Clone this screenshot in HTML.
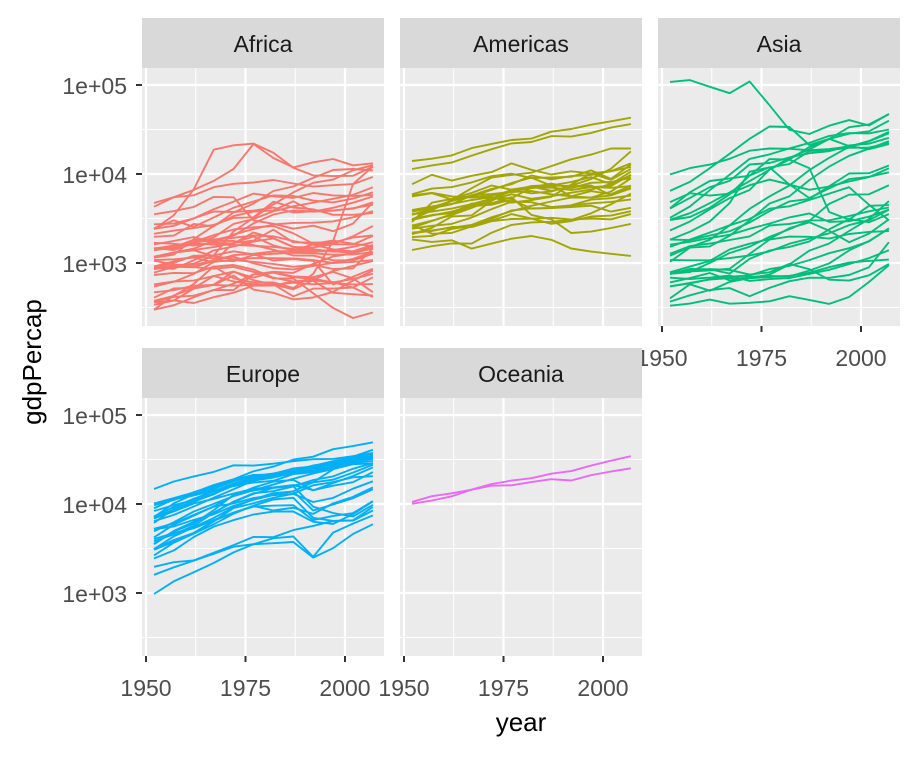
<!DOCTYPE html>
<html><head><meta charset="utf-8"><style>
body{margin:0;background:#fff;}
svg text{font-family:"Liberation Sans",Arial,sans-serif;}
</style></head><body>
<svg id="chart" width="918" height="756" xmlns="http://www.w3.org/2000/svg"></svg>
<script>
const years=[1952,1957,1962,1967,1972,1977,1982,1987,1992,1997,2002,2007];
const continents=["Africa","Americas","Asia","Europe","Oceania"];
const colors=["#F8766D","#A3A500","#00BF7D","#00B0F6","#E76BF3"];
const xTicks=[1950,1975,2000];
const yTicks=[1000,10000,100000];
const yTickLabels=["1e+03","1e+04","1e+05"];
const africa=[
[2388,3448,6757,18773,21011,21951,17364,11770,9640,9467,9535,12057],
[4293,5487,6632,8358,11401,21746,15113,11864,13522,14723,12522,13206],
[4725,5487,5769,7114,7765,8028,8568,7826,7225,7479,7710,9270],
[851,918,984,1215,2263,3215,4551,6206,7954,8648,11004,12570],
[1968,2034,2748,2575,3694,4655,6445,7244,9044,11089,11393,10957],
[2449,3014,2551,3247,4183,4910,5745,5681,5023,4797,5288,6223],
[1419,1459,1693,1815,2025,2785,3504,3885,3795,4173,4754,5581],
[1688,1643,1567,1711,2084,2407,2710,2819,2840,2931,3258,3821],
[1469,1396,1661,1932,2753,3121,3814,4333,4764,5268,5828,7093],
[376,427,582,916,673,606,605,522,755,1762,7703,12154],
[3521,3828,4269,5523,5473,3009,2757,2430,2628,2277,2773,4797],
[2126,2315,2465,2678,3213,3260,4880,4201,4016,3484,3484,3633],
[2424,2621,3174,3794,3746,3876,4192,3694,3805,3899,4073,4811],
[1148,1244,1856,2614,3364,3782,3896,4938,3769,3869,4128,4513],
[1077,1101,1151,1015,1698,1982,1577,1385,1620,1625,1615,2014],
[854,944,897,1057,1223,1268,1348,1361,1342,1360,1288,1463],
[911,1044,1190,1126,1178,993,876,847,926,1005,1112,1328],
[362,379,516,566,556,566,577,421,516,516,531,691],
[369,416,429,496,585,744,779,692,665,605,660,759],
[339,380,355,413,464,556,559,621,631,463,446,430],
[469,495,556,566,724,502,462,390,410,473,634,824],
[575,620,634,713,803,640,573,506,637,609,531,415],
[781,906,896,862,905,796,673,672,457,312,241,278],
[407,519,527,570,799,685,788,706,693,792,672,470],
[299,336,412,498,496,745,797,774,977,1187,1275,1569],
[880,1005,1207,1216,1354,1254,1068,1106,1057,574,699,863],
[1450,1568,1654,1612,1597,1562,1518,1441,1367,1393,1519,1712],
[1173,1313,1400,1508,1684,1783,2368,1708,1694,1694,1934,2042],
[1389,1500,1728,2052,2378,2518,2603,2157,1648,1786,1649,1545],
[1147,1312,1453,1777,1773,1589,1409,1213,1211,1071,1072,1271],
[1615,1771,1959,1687,1659,2203,1895,1507,1492,1632,1994,2602],
[734,775,768,908,950,844,683,618,644,816,928,1056],
[299,432,522,716,620,576,563,601,576,596,575,579],
[2719,2770,3173,4021,4893,6030,5614,5394,6110,5745,5680,5790],
[880,861,1072,1385,1533,1738,1890,1517,1429,1340,1353,1598],
[543,617,755,1029,1086,1030,976,907,951,857,870,1463],
[1062,959,950,1071,1049,1230,1268,1301,1285,1240,1250,1323],
[1178,1308,1389,1196,1104,1134,1131,1124,1077,1001,1028,1078],
[1444,1509,1822,1834,1919,2043,1996,1768,1604,1420,1351,1519]
];
const americas=[
[13990,14847,16173,19530,21806,24072,25009,29884,32004,35767,39097,42952],
[11367,12490,13462,16077,18971,22091,22899,26627,26343,28955,33329,36319],
[3082,3908,5108,6930,9123,9771,10331,12281,14642,16500,19329,19329],
[7690,9803,8423,9541,10506,13144,11152,9884,10733,10165,8605,11416],
[3023,4100,4997,5621,6620,7899,9119,7389,7370,8793,11461,18009],
[5911,6857,7133,8053,9443,10079,8998,9140,9308,10967,8798,12779],
[5717,6151,5603,5445,5703,6504,6920,7452,8137,9231,7727,10611],
[3940,4316,4627,5107,5494,4757,5096,5547,7596,10118,10779,13172],
[3478,4132,4582,5755,6809,7675,9611,8688,9472,9767,10742,11978],
[2109,2487,3337,3430,4986,6660,7031,7807,6950,7958,8131,9066],
[2480,2961,3537,4421,5364,5351,7009,7034,6618,7113,7356,9809],
[2627,2990,3461,4162,5119,5926,5262,5630,6160,6677,7723,9645],
[5587,6092,5180,5690,5305,6380,7317,7533,5593,5432,6340,8948],
[2899,4756,5246,6125,7434,6650,6068,6351,7405,7121,6994,7321],
[2144,2323,2492,2679,3265,3815,4398,4903,5445,5413,5755,7007],
[3759,4245,4957,5788,5938,6281,6435,5909,5623,6430,5909,7409],
[3522,3780,4086,4580,5280,6680,7213,6482,7104,7430,5773,6873],
[1398,1544,1662,1653,2189,2681,2862,2900,3045,3614,4563,6025],
[2677,2128,2181,2587,2980,3548,3157,2754,2962,3326,3413,3822],
[1953,2017,2418,2616,3130,3896,4109,4141,4258,4409,3784,4173],
[3048,3421,3776,4359,4520,5139,4098,4140,4444,5155,5352,5728],
[2428,2618,2750,3243,4032,4879,4820,4247,4439,4684,4859,5186],
[2195,2291,2538,2529,2947,3122,3146,3221,3082,3161,3099,3548],
[3112,3458,3634,4644,4688,5487,3471,3101,2171,2253,2475,2749],
[1840,1726,1797,1452,1654,1874,2011,1823,1457,1342,1270,1202]
];
const asia=[
[108382,113523,95458,80895,109348,59265,31354,28118,34932,40301,35111,47307],
[6460,8157,11626,16903,24837,34168,33694,21199,24841,20586,19014,21655],
[9867,11636,12753,14805,18269,19340,19211,18524,19036,20292,23404,29796],
[3217,4318,6577,9848,14779,16610,19384,22376,26825,28817,28605,31656],
[2316,2923,4012,5367,6611,11210,15170,18862,24769,33519,36023,47143],
[3054,3629,4693,6198,8316,11186,14561,20038,24758,28378,30209,39725],
[4087,5386,7106,8394,12787,13307,15367,17123,18051,20897,21906,25523],
[1207,1508,1823,2644,4063,5597,7427,11055,15216,20207,23235,28718],
[1031,1488,1537,2029,3030,4657,5623,8533,12104,15994,19234,23348],
[1828,2243,2925,4721,10618,11849,12955,18115,18617,19702,19775,22316],
[3035,3290,4187,5907,9614,11889,7608,6643,7235,8263,9241,11606],
[4130,6229,8342,8931,9577,14688,14517,11644,3745,3076,4391,4471],
[4835,6090,5716,6006,7486,8660,7640,5377,6890,8755,9313,10461],
[1831,1810,2037,2278,2849,3828,4920,5249,7278,10133,10207,12452],
[786,912,1057,1421,1648,1856,2463,2863,2298,1711,2141,3096],
[400,576,488,613,677,741,962,1379,1655,2289,3119,4959],
[547,590,658,701,725,855,928,1079,1289,1467,1747,2452],
[750,859,849,762,1111,1383,1517,1748,2383,3119,2874,3541],
[757,793,1002,1295,1524,1962,2393,2983,4616,5852,5913,7458],
[331,350,388,349,357,371,424,385,347,415,611,944],
[684,661,686,721,630,660,677,752,838,973,1136,1391],
[546,598,652,676,674,695,718,776,898,1011,1057,1091],
[368,434,497,523,422,525,624,684,682,734,896,1713],
[779,821,853,836,740,786,978,852,649,635,727,975],
[782,805,826,863,1265,1830,1978,1972,1879,2117,2235,2281],
[605,676,772,637,700,714,707,821,989,1386,1764,2442],
[1516,1827,2199,2650,3133,4070,4336,5107,6018,7111,4516,3025],
[1083,1072,1075,1135,1213,1349,1648,1877,2154,2665,3015,3970],
[1272,1548,1650,1814,1989,2640,2752,3007,3021,3365,3812,4201],
[1606,1731,1911,2075,2424,2769,3254,3606,2896,2946,3310,3972]
];
const europe=[
[14734,17909,20431,22966,27195,26982,28398,30282,31871,32135,34481,37506],
[10095,11654,13450,16362,18965,23311,26299,31541,33965,41283,44684,49357],
[8942,11277,12791,15363,18795,21209,21399,23651,26791,30246,33725,36798],
[9980,11283,12477,14143,15895,17428,18232,21665,22705,26075,29479,33203],
[9692,11100,13583,15937,18866,20423,21688,25116,26406,29804,32167,35278],
[8343,9715,10991,13149,16672,19118,20980,22526,25576,27561,30486,33693],
[7030,8663,10560,12999,16107,18293,20294,22066,24704,25890,28927,30470],
[7144,10188,12902,14746,18016,20513,22032,24639,26505,27789,30036,32170],
[4931,6249,8244,10022,12269,14256,16537,19208,22014,24675,27968,28570],
[3834,4565,5694,7994,10639,13237,13926,15765,18603,20445,24835,28821],
[5210,5599,6632,7656,9531,11151,12618,13873,17558,24522,34077,40676],
[3068,3775,4728,6362,9023,10172,11754,13039,16207,17641,19971,20510],
[3531,4916,6017,8513,12725,14196,15268,16121,17541,18748,22514,27538],
[6876,8257,10137,11399,13108,14800,15377,16311,14298,16049,17596,22833],
[4215,5862,7403,9405,12384,15277,17867,18678,14215,17161,20660,25768],
[5264,6040,7550,9326,10168,11675,12546,12986,10535,11712,14843,18009],
[4029,4734,5338,6557,8006,9508,8451,9082,7739,10160,12002,15390],
[3119,4338,5478,6960,9164,11305,13222,13822,8447,9876,11628,14619],
[3581,4981,6289,7991,10523,12980,15181,15870,9325,7914,7237,9787],
[2648,3682,4650,5907,7779,9596,11222,11733,7003,6465,6557,9254],
[974,1354,1710,2172,2860,3528,4127,4314,2547,4766,6019,7446],
[1601,1942,2313,2760,3313,3533,3631,3739,2497,3193,4604,5937],
[2444,3009,4255,5578,6597,7612,8225,8240,6303,5970,7697,10681],
[3144,3944,4735,6471,8012,9356,9605,9697,6599,7347,7886,10808],
[1969,2219,2323,2826,3451,4269,4241,5089,5679,6466,6509,8458],
[6137,8843,10750,12835,16662,19749,21597,23688,27042,29095,32418,36126],
[6424,7546,9372,11765,14609,18335,19857,22341,23814,26541,30241,33859],
[7268,9244,11431,13924,17029,19793,20659,23676,25767,28396,31046,35435]
];
const oceania=[
[10040,10950,12217,14526,16789,18334,19477,21889,23425,26998,30688,34435],
[10557,12247,13176,14464,16046,16234,17633,19008,18364,21050,23190,25185]
];
const seriesByContinent=[africa,americas,asia,europe,oceania];

const NS="http://www.w3.org/2000/svg";
const svg=document.getElementById('chart');
function mk(tag,attrs,parent){const e=document.createElementNS(NS,tag);for(const k in attrs)e.setAttribute(k,attrs[k]);(parent||svg).appendChild(e);return e;}
const PW=242,PH=258,STRIP=50;
const panelPos=[[142,18],[400,18],[658,18],[142,348],[400,348]];
function xScale(px,yr){return px+4+(yr-1950)*3.98;}
function yScale(top,v){return top+17+(5-Math.log10(v))*89;}

continents.forEach((name,ci)=>{
  const [px,sy]=panelPos[ci];const top=sy+STRIP;
  const g=mk('g',{});
  
  
  const strip=mk('rect',{x:px,y:sy,width:PW,height:STRIP,fill:'#d9d9d9'},g);
  
  
  const st=mk('text',{x:px+PW/2,y:sy+34,'text-anchor':'middle','font-size':23,fill:'#1a1a1a'},g);
  st.textContent=name;
  
  
  const bg=mk('rect',{x:px,y:top,width:PW,height:PH,fill:'#ebebeb'},g);
  
  
  [2.5,3.5,4.5].forEach(l=>{const y=yScale(top,Math.pow(10,l));if(y>top&&y<top+PH)mk('line',{x1:px,x2:px+PW,y1:y,y2:y,stroke:'#fff','stroke-width':1},g);});
  [1962.5,1987.5].forEach(yr=>{const x=xScale(px,yr);mk('line',{x1:x,x2:x,y1:top,y2:top+PH,stroke:'#fff','stroke-width':1},g);});
  yTicks.forEach(v=>{const y=yScale(top,v);mk('line',{x1:px,x2:px+PW,y1:y,y2:y,stroke:'#fff','stroke-width':2.2},g);});
  xTicks.forEach(yr=>{const x=xScale(px,yr);mk('line',{x1:x,x2:x,y1:top,y2:top+PH,stroke:'#fff','stroke-width':2.2},g);});
  seriesByContinent[ci].forEach((vals,si)=>{
    const d=vals.map((v,i)=>(i?'L':'M')+xScale(px,years[i]).toFixed(1)+','+yScale(top,v).toFixed(1)).join('');
    const p=mk('path',{d:d,fill:'none',stroke:colors[ci],'stroke-width':1.9,'stroke-linejoin':'round'},g);
    
    
  });
  if(ci===0||ci===3){
    yTicks.forEach((v,i)=>{const y=yScale(top,v);
      mk('line',{x1:px-6,x2:px,y1:y,y2:y,stroke:'#333','stroke-width':2},g);
      const t=mk('text',{x:px-15,y:y+9,'text-anchor':'end','font-size':23,fill:'#4d4d4d'},g);
      t.textContent=yTickLabels[i];
      
      
    });
  }
  if(ci>=2){
    xTicks.forEach(yr=>{const x=xScale(px,yr);
      mk('line',{x1:x,x2:x,y1:top+PH,y2:top+PH+6,stroke:'#333','stroke-width':2},g);
      const t=mk('text',{x:x,y:top+PH+40,'text-anchor':'middle','font-size':23,fill:'#4d4d4d'},g);
      t.textContent=yr;
      
      
    });
  }
});
const yt=mk('text',{x:0,y:0,transform:'translate(41,362) rotate(-90)','text-anchor':'middle','font-size':26,fill:'#000'});
yt.textContent='gdpPercap';


const xt=mk('text',{x:521,y:731,'text-anchor':'middle','font-size':26,fill:'#000'});
xt.textContent='year';


</script>
</body></html>
